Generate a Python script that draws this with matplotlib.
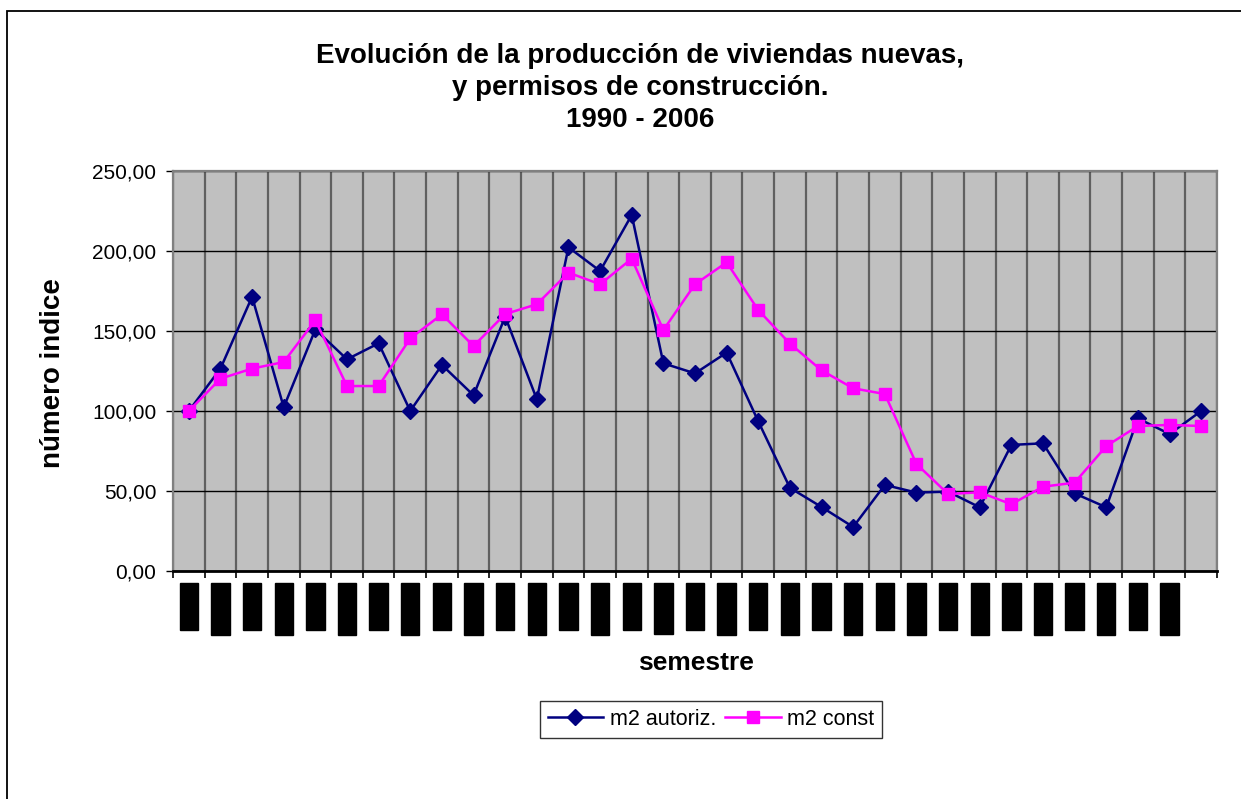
import matplotlib

matplotlib.use("Agg")
import matplotlib.pyplot as plt
from matplotlib.patches import Rectangle
from matplotlib.ticker import FuncFormatter, MultipleLocator
import numpy as np

# índice base 100 por semestre, 1990-I a 2006-I
semestres = [f"{y}-{s}" for y in range(1990, 2006) for s in ("I", "II")] + [""]
m2_autoriz = [100.0, 126.5, 171.4, 102.3, 151.0, 132.3, 142.3, 100.0, 128.8, 109.8,
              159.0, 107.3, 202.3, 187.5, 222.5, 129.8, 123.5, 136.5, 93.5, 52.0,
              40.0, 27.5, 53.8, 49.0, 49.6, 39.8, 78.8, 79.8, 48.5, 39.8,
              95.4, 85.6, 100.0]
m2_const = [100.0, 120.2, 126.5, 130.6, 156.7, 115.6, 115.6, 145.4, 160.4, 140.6,
            160.6, 166.7, 186.5, 179.2, 195.2, 150.6, 179.2, 192.9, 163.1, 142.1,
            125.4, 114.2, 110.6, 66.9, 48.1, 49.2, 41.7, 52.7, 55.2, 78.1,
            90.6, 91.3, 90.6]

plt.rcParams["font.family"] = ["Liberation Sans", "DejaVu Sans"]

fig = plt.figure(figsize=(12.41, 7.99), dpi=100)
ax = fig.add_axes([173 / 1241, 228 / 799, 1044 / 1241, 400 / 799])
ax.set_facecolor("#c0c0c0")

x = np.arange(len(m2_autoriz))
ax.plot(x, m2_autoriz, color="#000080", linewidth=1.8, marker="D", markersize=8.5,
        label="m2 autoriz.", zorder=3)
ax.plot(x, m2_const, color="#ff00ff", linewidth=1.8, marker="s", markersize=8.5,
        label="m2 const", zorder=4)

ax.set_xlim(-0.5, len(x) - 0.5)
ax.set_ylim(0, 250)
ax.yaxis.set_major_locator(MultipleLocator(50))
ax.yaxis.set_major_formatter(FuncFormatter(lambda v, _: f"{v:.2f}".replace(".", ",")))
ax.grid(axis="y", color="black", linewidth=1.0, zorder=1)

# category boundaries: vertical gridlines + tick marks
ax.set_xticks(np.arange(-0.5, len(x)), minor=True)
ax.grid(axis="x", which="minor", color="#606060", linewidth=1.6, zorder=1)
ax.tick_params(axis="x", which="minor", length=5, width=1.2, color="black")
ax.set_xticks(x)
ax.set_xticklabels(semestres, rotation=90, fontsize=11, color="black")
ax.tick_params(axis="x", which="major", length=0, pad=10)
for lbl in ax.get_xticklabels():
    lbl.set_bbox(dict(facecolor="black", edgecolor="black", pad=1.5))
ax.set_axisbelow(True)

ax.tick_params(axis="y", length=5, width=1.0, pad=7, labelsize=15, color="black")
for side in ("top", "right", "left"):
    ax.spines[side].set_color("#808080")
    ax.spines[side].set_linewidth(1.6)
ax.spines["bottom"].set_color("black")
ax.spines["bottom"].set_linewidth(2.0)

fig.text(640 / 1241, 1 - 88 / 799,
         "Evolución de la producción de viviendas nuevas,\ny permisos de construcción.\n1990 - 2006",
         ha="center", va="center", fontsize=20, fontweight="bold", linespacing=1.32)
fig.text(53 / 1241, 1 - 373 / 799, "número indice", rotation=90, ha="center", va="center",
         fontsize=20, fontweight="bold")
fig.text(696 / 1241, 1 - 663 / 799, "semestre", ha="center", va="center",
         fontsize=19, fontweight="bold")

leg = fig.legend(loc="center", bbox_to_anchor=(711 / 1241, 1 - 719.5 / 799), ncol=2,
                 fontsize=15.5, frameon=True, fancybox=False, edgecolor="black",
                 handlelength=2.6, handletextpad=0.3, columnspacing=0.4,
                 borderpad=0.35, borderaxespad=0)
leg.get_frame().set_linewidth(1.0)

fig.patches.append(Rectangle((7 / 1241, -0.1), 1.2, 1.1 - 11 / 799, transform=fig.transFigure,
                             fill=False, edgecolor="black", linewidth=1.3))

fig.savefig("out.png", dpi=100)
